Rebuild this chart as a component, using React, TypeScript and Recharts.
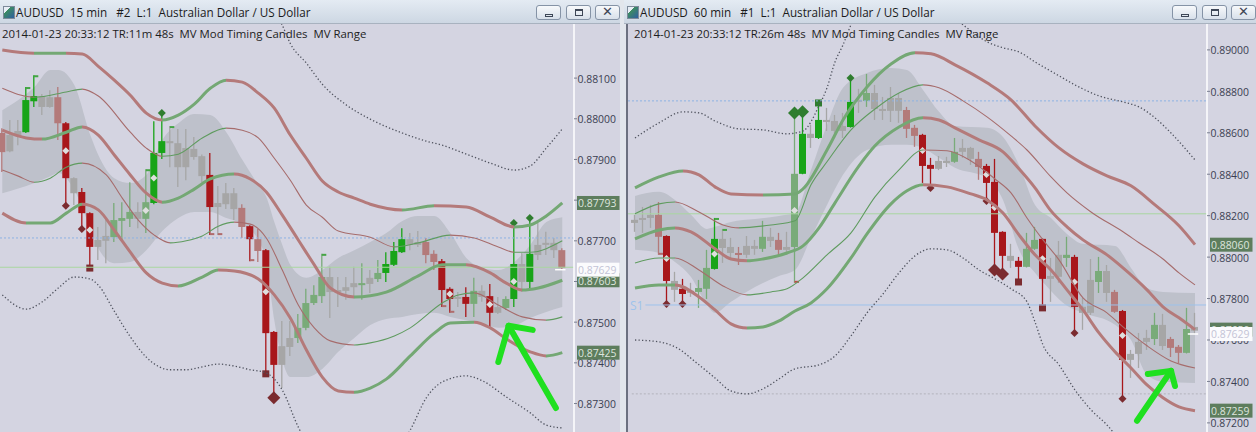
import React from 'react';
import { ComposedChart, Bar, Line, Area, XAxis, YAxis, ReferenceLine } from 'recharts';

type Candle = [number, number, number, number, string];
type Knot = [number, number];
type Band = [number, number, number];

// ---- 15 min panel ----
const leftCandles: Candle[] = [
  [0.87965, 0.87977, 0.87869, 0.87918, 'r'], [0.8796, 0.87997, 0.87918, 0.8792, 'n'], [0.87957, 0.87997, 0.87935, 0.8797, 'n'],
  [0.87967, 0.88078, 0.87965, 0.88046, 'G'], [0.88043, 0.88107, 0.88029, 0.88056, 'G'], [0.88056, 0.88061, 0.88009, 0.88029, 'n'],
  [0.88029, 0.8807, 0.88027, 0.88053, 'n'], [0.88053, 0.88078, 0.87948, 0.87989, 'r'], [0.87989, 0.87992, 0.87786, 0.87854, 'R'],
  [0.87854, 0.87856, 0.87788, 0.87817, 'n'], [0.8782, 0.8783, 0.87729, 0.87768, 'R'], [0.87768, 0.8777, 0.87633, 0.87685, 'R'],
  [0.87685, 0.87734, 0.87653, 0.87702, 'n'], [0.877, 0.87751, 0.87645, 0.87712, 'n'], [0.87709, 0.87793, 0.87697, 0.87751, 'g'],
  [0.87749, 0.87795, 0.87697, 0.87756, 'g'], [0.87754, 0.87844, 0.87734, 0.87771, 'g'], [0.87771, 0.87795, 0.87731, 0.87754, 'n'],
  [0.87754, 0.87876, 0.87719, 0.87795, 'g'], [0.87793, 0.87994, 0.8779, 0.87916, 'G'], [0.87916, 0.88014, 0.87901, 0.87945, 'G'],
  [0.87945, 0.87982, 0.87881, 0.8794, 'n'], [0.8794, 0.87975, 0.87832, 0.87881, 'n'], [0.87881, 0.87975, 0.87849, 0.87928, 'n'],
  [0.87926, 0.87955, 0.87899, 0.87906, 'n'], [0.87908, 0.87912, 0.87844, 0.87859, 'n'], [0.87862, 0.87916, 0.87714, 0.87783, 'R'],
  [0.87783, 0.87835, 0.87714, 0.87793, 'n'], [0.8779, 0.87842, 0.87778, 0.87817, 'n'], [0.87817, 0.8783, 0.87751, 0.87778, 'n'],
  [0.87781, 0.8779, 0.87707, 0.87734, 'r'], [0.87736, 0.87738, 0.8765, 0.87704, 'R'], [0.87704, 0.87729, 0.87648, 0.87675, 'r'],
  [0.87677, 0.8768, 0.87373, 0.87473, 'R'], [0.87476, 0.87478, 0.87314, 0.87395, 'R'], [0.87395, 0.87503, 0.87338, 0.87441, 'n'],
  [0.87439, 0.87503, 0.87417, 0.87461, 'n'], [0.87461, 0.8752, 0.87449, 0.87486, 'g'], [0.87486, 0.87582, 0.8748, 0.87547, 'g'],
  [0.87547, 0.87591, 0.87542, 0.87567, 'g'], [0.87564, 0.87668, 0.87547, 0.87611, 'g'], [0.87611, 0.87636, 0.8751, 0.87574, 'n'],
  [0.87574, 0.87611, 0.87537, 0.87579, 'n'], [0.87577, 0.87611, 0.87555, 0.87586, 'n'], [0.87586, 0.87636, 0.87559, 0.87596, 'n'],
  [0.87591, 0.87645, 0.87555, 0.87596, 'g'], [0.87594, 0.87628, 0.87572, 0.87609, 'n'], [0.87606, 0.87653, 0.87599, 0.87621, 'g'],
  [0.87621, 0.87672, 0.87599, 0.87643, 'G'], [0.87641, 0.87697, 0.87638, 0.87675, 'G'], [0.87672, 0.87731, 0.8767, 0.87704, 'G'],
  [0.87704, 0.87719, 0.87677, 0.8769, 'n'], [0.8769, 0.87724, 0.87685, 0.87697, 'n'], [0.87697, 0.87707, 0.87645, 0.87665, 'r'],
  [0.87668, 0.87677, 0.87628, 0.87648, 'r'], [0.8765, 0.87655, 0.87537, 0.87579, 'R'], [0.87582, 0.87586, 0.87523, 0.87557, 'R'],
  [0.87557, 0.87574, 0.87537, 0.87562, 'n'], [0.87562, 0.87586, 0.87513, 0.87545, 'R'], [0.87545, 0.87609, 0.87513, 0.87577, 'g'],
  [0.87577, 0.87591, 0.8755, 0.87562, 'n'], [0.87564, 0.87594, 0.87486, 0.87523, 'R'], [0.87523, 0.87562, 0.8752, 0.87537, 'n'],
  [0.87535, 0.87564, 0.8753, 0.87557, 'g'], [0.87557, 0.87744, 0.87537, 0.87643, 'G'], [0.87599, 0.8767, 0.87574, 0.87643, 'n'],
  [0.87599, 0.87756, 0.87584, 0.87668, 'G'], [0.87665, 0.87744, 0.87653, 0.8769, 'n'], [0.8769, 0.87722, 0.87665, 0.87695, 'n'],
  [0.87695, 0.87707, 0.87658, 0.87677, 'n'], [0.87677, 0.87682, 0.87628, 0.87633, 'r'],
];
const leftMid = [8, 11, 18, 19, 33, 56, 61, 64];
const leftTop: [number, string][] = [[3, 'f'], [4, 'f'], [18, 'f'], [20, 'd'], [21, 'f'], [40, 'f'], [64, 'd'], [66, 'd']];
const leftBottom: [number, string][] = [[8, 'd'], [10, 'd'], [11, 's'], [26, 'f'], [27, 'f'], [31, 'f'], [33, 's'], [34, 'D'], [55, 'f'], [56, 'f']];

const leftT1: Knot[] = [[0, 0.88169], [4, 0.88161], [8, 0.88161], [10, 0.88159], [12, 0.88129], [14, 0.88095], [16, 0.88058], [18, 0.88014], [20, 0.87997], [22, 0.88009], [24, 0.88036], [26, 0.88075], [28, 0.88095], [30, 0.8809], [32, 0.88063], [34, 0.88026], [36, 0.8796], [38, 0.87903], [40, 0.87847], [42, 0.8782], [44, 0.87805], [46, 0.8779], [50, 0.87776], [54, 0.87786], [58, 0.87783], [61, 0.87758], [64, 0.87734], [66, 0.87739], [68, 0.87761], [70, 0.87793]];
const leftT2: Knot[] = [[0, 0.88075], [4, 0.88053], [8, 0.88066], [10, 0.88073], [12, 0.88056], [16, 0.87967], [18, 0.87928], [20, 0.87908], [22, 0.87913], [25, 0.87953], [28, 0.87977], [30, 0.87972], [32, 0.87953], [34, 0.87903], [36, 0.87849], [38, 0.87788], [40, 0.87758], [42, 0.87724], [46, 0.87709], [49, 0.87685], [52, 0.87695], [56, 0.87714], [59, 0.87707], [62, 0.87685], [64, 0.87672], [66, 0.87672], [70, 0.877]];
const leftC: Knot[] = [[0, 0.87972], [3, 0.87953], [5, 0.8795], [8, 0.87967], [10, 0.8798], [12, 0.8796], [14, 0.87911], [16, 0.87862], [18, 0.87817], [20, 0.87795], [22, 0.87805], [24, 0.87827], [26, 0.87852], [29, 0.87864], [31, 0.87852], [33, 0.8782], [35, 0.87763], [37, 0.87702], [39, 0.87641], [41, 0.87584], [44, 0.87562], [48, 0.87574], [52, 0.87614], [55, 0.87641], [58, 0.87641], [61, 0.87621], [63, 0.87596], [65, 0.87579], [67, 0.87584], [70, 0.87603]];
const leftB2: Knot[] = [[0, 0.87874], [2, 0.87859], [4, 0.87844], [6, 0.87854], [8, 0.87881], [10, 0.87891], [13, 0.87862], [15, 0.87805], [17, 0.87751], [19, 0.87714], [21, 0.87695], [23, 0.877], [25, 0.87712], [27, 0.87736], [29, 0.87746], [31, 0.87741], [33, 0.87707], [35, 0.87628], [37, 0.87542], [39, 0.87486], [41, 0.87454], [44, 0.87444], [46, 0.87449], [49, 0.87466], [51, 0.87486], [55, 0.87547], [57, 0.87567], [59, 0.87572], [62, 0.87542], [65, 0.87513], [68, 0.87505], [70, 0.87513]];
const leftB1: Knot[] = [[0, 0.87768], [3, 0.87744], [6, 0.87744], [8, 0.87768], [10, 0.8779], [12, 0.87776], [14, 0.87726], [16, 0.87672], [18, 0.87621], [20, 0.87596], [22, 0.87589], [25, 0.87611], [27, 0.87628], [29, 0.87626], [32, 0.87606], [34, 0.87567], [36, 0.8751], [38, 0.87432], [40, 0.87365], [42, 0.87331], [44, 0.87328], [46, 0.87338], [48, 0.8736], [51, 0.87417], [54, 0.87473], [56, 0.87498], [59, 0.875], [61, 0.87486], [63, 0.87459], [66, 0.87427], [68, 0.87417], [70, 0.87425]];
const leftDotTop: Knot[] = [[33, 0.88292], [35, 0.8823], [36, 0.88185], [38, 0.88137], [40, 0.88085], [43, 0.88034], [46, 0.87999], [50, 0.87965], [53, 0.87945], [55, 0.87935], [58, 0.87913], [61, 0.87891], [64, 0.87874], [66, 0.87884], [68, 0.87928], [70, 0.87975]];
const leftDotBottom: Knot[] = [[0, 0.87567], [3, 0.87532], [5, 0.8755], [7, 0.87584], [9, 0.87611], [11, 0.87606], [12, 0.87591], [14, 0.87527], [16, 0.87464], [18, 0.87414], [21, 0.87383], [23, 0.87383], [25, 0.8739], [27, 0.87397], [29, 0.87392], [31, 0.87383], [33, 0.87375], [35, 0.87333], [37, 0.87242], [40, 0.87149], [44, 0.87112], [48, 0.87149], [51, 0.87235], [53, 0.87314], [55, 0.87353], [58, 0.87368], [60, 0.87356], [63, 0.87316], [66, 0.87277], [68, 0.87247], [70, 0.8724]];
const leftEnv: Band[] = [[0, 0.87817, 0.88021], [4, 0.87842, 0.88078], [6, 0.87859, 0.8812], [7, 0.87867, 0.8812], [9, 0.87825, 0.88083], [11, 0.87731, 0.8796], [12, 0.87682, 0.87911], [14, 0.87645, 0.87854], [16, 0.87648, 0.87842], [18, 0.87677, 0.87862], [20, 0.87724, 0.87948], [22, 0.87756, 0.87989], [24, 0.87771, 0.88012], [26, 0.87771, 0.88009], [28, 0.87756, 0.87967], [30, 0.87741, 0.87899], [32, 0.87702, 0.87837], [33, 0.87648, 0.87808], [34, 0.87505, 0.87746], [35, 0.87407, 0.8769], [36, 0.87365, 0.87641], [38, 0.87365, 0.87609], [40, 0.87385, 0.87628], [42, 0.87427, 0.87658], [44, 0.87461, 0.87677], [46, 0.87493, 0.87697], [48, 0.87508, 0.87719], [50, 0.87513, 0.87749], [52, 0.8752, 0.87761], [54, 0.87523, 0.87761], [56, 0.87513, 0.87719], [58, 0.87505, 0.87658], [60, 0.87496, 0.87633], [62, 0.87486, 0.87628], [64, 0.87491, 0.87648], [66, 0.8751, 0.8769], [68, 0.87525, 0.87746], [70, 0.87537, 0.87758]];
const leftTicks = [0.873, 0.874, 0.875, 0.876, 0.877, 0.878, 0.879, 0.88, 0.881];
const leftTagsGreen = [0.87793, 0.87603, 0.87425];
const leftTagWhite = 0.87629;
const leftLevels = [0.87707, 0.87635];
const leftArrow: Knot[] = [[63.3, 0.87491], [69.2, 0.87289], [62.0, 0.87402], [66.3, 0.87481]];

// ---- 60 min panel ----
const rightCandles: Candle[] = [
  [0.88165, 0.88204, 0.88122, 0.8818, 'n'], [0.8818, 0.88242, 0.88117, 0.88189, 'n'], [0.88189, 0.88252, 0.88141, 0.88204, 'n'],
  [0.88204, 0.88266, 0.88011, 0.88098, 'r'], [0.88102, 0.88105, 0.87774, 0.87885, 'R'], [0.87885, 0.87929, 0.87784, 0.87842, 'n'],
  [0.87847, 0.87895, 0.87774, 0.87822, 'R'], [0.87827, 0.87876, 0.87808, 0.87837, 'n'], [0.87832, 0.8789, 0.87755, 0.87851, 'g'],
  [0.87847, 0.88035, 0.87798, 0.87948, 'g'], [0.87943, 0.88189, 0.8794, 0.88088, 'G'], [0.88088, 0.88136, 0.87972, 0.88044, 'n'],
  [0.88049, 0.88093, 0.87996, 0.8802, 'n'], [0.8802, 0.88049, 0.87962, 0.88011, 'r'], [0.88011, 0.88102, 0.87996, 0.88054, 'n'],
  [0.88054, 0.88083, 0.88011, 0.8804, 'n'], [0.8804, 0.88175, 0.88025, 0.88098, 'g'], [0.88098, 0.88141, 0.88049, 0.88078, 'n'],
  [0.88083, 0.88117, 0.88001, 0.88035, 'r'], [0.88035, 0.88122, 0.88011, 0.88049, 'n'], [0.88049, 0.88696, 0.87876, 0.88402, 'g'],
  [0.88402, 0.88701, 0.884, 0.88595, 'G'], [0.88595, 0.88638, 0.88527, 0.88575, 'n'], [0.88575, 0.88744, 0.8857, 0.88662, 'G'],
  [0.88662, 0.8872, 0.88609, 0.88652, 'n'], [0.88657, 0.88686, 0.88575, 0.88609, 'n'], [0.88609, 0.88696, 0.88575, 0.88633, 'n'],
  [0.88628, 0.88865, 0.88625, 0.88749, 'G'], [0.88749, 0.88812, 0.88696, 0.88759, 'n'], [0.88754, 0.88884, 0.88725, 0.88792, 'g'],
  [0.88792, 0.88831, 0.88662, 0.88715, 'n'], [0.88715, 0.88773, 0.88662, 0.88706, 'n'], [0.88706, 0.88821, 0.88652, 0.88768, 'n'],
  [0.88768, 0.88792, 0.88648, 0.88706, 'n'], [0.8871, 0.88725, 0.88575, 0.88619, 'r'], [0.88624, 0.88638, 0.88532, 0.88585, 'r'],
  [0.8859, 0.88595, 0.88358, 0.8844, 'R'], [0.88445, 0.88479, 0.88334, 0.88426, 'R'], [0.88426, 0.88488, 0.8842, 0.88464, 'n'],
  [0.88464, 0.88484, 0.88435, 0.88455, 'n'], [0.8846, 0.88575, 0.88455, 0.88508, 'g'], [0.88508, 0.8857, 0.88479, 0.88527, 'n'],
  [0.88527, 0.88532, 0.88445, 0.88474, 'n'], [0.88474, 0.88508, 0.88373, 0.88435, 'r'], [0.8844, 0.8845, 0.88271, 0.88358, 'R'],
  [0.88363, 0.88474, 0.87938, 0.88117, 'R'], [0.88122, 0.88125, 0.87919, 0.88006, 'R'], [0.88006, 0.88064, 0.87948, 0.87982, 'n'],
  [0.87982, 0.88001, 0.8788, 0.87953, 'R'], [0.87953, 0.88117, 0.8795, 0.8804, 'g'], [0.8804, 0.88146, 0.88035, 0.88083, 'g'],
  [0.88088, 0.8809, 0.87755, 0.87895, 'R'], [0.87895, 0.87996, 0.87784, 0.87909, 'n'], [0.87905, 0.88078, 0.87876, 0.88011, 'n'],
  [0.87996, 0.88098, 0.87953, 0.88011, 'g'], [0.88001, 0.88011, 0.87634, 0.8776, 'R'], [0.8776, 0.87803, 0.87649, 0.87731, 'n'],
  [0.87731, 0.87991, 0.87721, 0.8789, 'n'], [0.8788, 0.88001, 0.87827, 0.87933, 'g'], [0.87933, 0.87962, 0.87784, 0.87827, 'n'],
  [0.87832, 0.87842, 0.87731, 0.87736, 'r'], [0.8774, 0.87745, 0.87316, 0.87504, 'R'], [0.87504, 0.87552, 0.87417, 0.87533, 'n'],
  [0.87533, 0.87634, 0.87465, 0.87591, 'n'], [0.87591, 0.87649, 0.87552, 0.8761, 'n'], [0.87605, 0.87731, 0.87576, 0.87673, 'g'],
  [0.87673, 0.87726, 0.87552, 0.87571, 'n'], [0.87605, 0.87615, 0.87518, 0.87562, 'r'], [0.87567, 0.87576, 0.87489, 0.87538, 'r'],
  [0.87538, 0.87755, 0.87535, 0.87653, 'g'], [0.87663, 0.87731, 0.8763, 0.87645, 'n'],
];
const rightMid = [4, 10, 20, 36, 44, 45, 51, 55, 61];
const rightTop: [number, string][] = [[10, 'f'], [11, 'f'], [20, 'D'], [21, 'D'], [23, 's'], [27, 'd']];
const rightBottom: [number, string][] = [[3, 'f'], [4, 'd'], [6, 'd'], [20, 'f'], [37, 'd'], [44, 'd'], [45, 'D'], [46, 'D'], [48, 's'], [51, 's'], [55, 'd'], [61, 'd']];

const rightT1: Knot[] = [[0, 0.88334], [3, 0.88387], [6, 0.88416], [8, 0.88397], [10, 0.88339], [12, 0.88305], [16, 0.883], [20, 0.88305], [21, 0.88329], [24, 0.88517], [26, 0.88662], [29, 0.88821], [32, 0.88932], [35, 0.88986], [37, 0.88981], [40, 0.88928], [44, 0.88841], [47, 0.88759], [50, 0.88633], [53, 0.88527], [56, 0.8845], [59, 0.88392], [62, 0.88344], [65, 0.88252], [68, 0.88151], [70, 0.8806]];
const rightT2: Knot[] = [[0, 0.88209], [3, 0.88257], [5, 0.88266], [8, 0.88218], [11, 0.88155], [13, 0.88141], [17, 0.88155], [20, 0.88175], [22, 0.88349], [24, 0.8846], [27, 0.88614], [30, 0.88715], [33, 0.88792], [36, 0.88831], [38, 0.88817], [41, 0.88754], [44, 0.88677], [47, 0.88585], [49, 0.88517], [52, 0.88387], [54, 0.8831], [57, 0.88218], [61, 0.88122], [63, 0.88069], [66, 0.87991], [68, 0.87924], [70, 0.87866]];
const rightC: Knot[] = [[0, 0.88088], [3, 0.88131], [5, 0.88141], [7, 0.88122], [10, 0.8804], [12, 0.87991], [14, 0.87982], [16, 0.87991], [19, 0.8802], [21, 0.88054], [23, 0.88141], [25, 0.88262], [28, 0.8844], [30, 0.88537], [33, 0.88628], [36, 0.88672], [38, 0.88662], [40, 0.88624], [43, 0.88566], [46, 0.88508], [48, 0.88426], [50, 0.88334], [52, 0.88223], [54, 0.88146], [56, 0.88083], [59, 0.88011], [61, 0.87948], [64, 0.87842], [66, 0.8776], [68, 0.87707], [70, 0.8765]];
const rightB2: Knot[] = [[0, 0.87972], [3, 0.87996], [5, 0.87996], [8, 0.87938], [11, 0.87861], [14, 0.87818], [17, 0.87832], [19, 0.87847], [21, 0.879], [24, 0.88011], [27, 0.88117], [30, 0.88291], [33, 0.88421], [36, 0.88517], [39, 0.88513], [42, 0.88464], [45, 0.88377], [47, 0.8831], [49, 0.88189], [51, 0.88083], [53, 0.87987], [56, 0.87803], [59, 0.87731], [61, 0.87663], [64, 0.87572], [67, 0.87499], [70, 0.87465]];
const rightB1: Knot[] = [[0, 0.87851], [3, 0.87866], [5, 0.87866], [8, 0.87808], [10, 0.87745], [12, 0.87678], [14, 0.87658], [16, 0.87663], [18, 0.87692], [20, 0.8774], [22, 0.87779], [24, 0.87847], [27, 0.87996], [29, 0.88112], [32, 0.88257], [34, 0.8832], [36, 0.88349], [39, 0.88339], [42, 0.88305], [44, 0.88276], [46, 0.88213], [48, 0.88107], [50, 0.88011], [52, 0.87938], [54, 0.87842], [56, 0.87745], [58, 0.87634], [60, 0.87543], [62, 0.87465], [64, 0.87383], [66, 0.87321], [68, 0.87277], [70, 0.87259]];
const rightDotTop: Knot[] = [[0, 0.88575], [3, 0.88648], [6, 0.88701], [8, 0.88696], [10, 0.88657], [13, 0.88619], [16, 0.88614], [19, 0.88595], [21, 0.88609], [23, 0.8873], [24, 0.88817], [25, 0.88942], [26, 0.89024], [27, 0.89121], [29, 0.89241], [33, 0.89314], [37, 0.89241], [41, 0.89121], [44, 0.89039], [46, 0.8901], [48, 0.8899], [50, 0.88942], [53, 0.88875], [55, 0.88831], [58, 0.88778], [61, 0.88749], [63, 0.88725], [65, 0.88672], [67, 0.88599], [70, 0.88469]];
const rightDotBottom: Knot[] = [[0, 0.876], [3, 0.87591], [5, 0.87567], [8, 0.8748], [10, 0.87417], [12, 0.87354], [14, 0.8734], [16, 0.87364], [18, 0.87412], [20, 0.87461], [23, 0.8748], [25, 0.87523], [27, 0.8762], [29, 0.87731], [31, 0.87822], [33, 0.87924], [35, 0.88006], [37, 0.8804], [39, 0.88035], [41, 0.87996], [43, 0.87938], [45, 0.87895], [47, 0.87847], [49, 0.87784], [50, 0.87687], [51, 0.87576], [53, 0.8748], [55, 0.87359], [57, 0.87263], [59, 0.8719], [62, 0.87046], [66, 0.86925], [70, 0.86852]];
const rightEnv: Band[] = [[0, 0.88035, 0.88295], [3, 0.8802, 0.88315], [5, 0.87977, 0.88276], [7, 0.87904, 0.88204], [9, 0.87769, 0.88136], [10, 0.87731, 0.88146], [12, 0.87784, 0.8817], [15, 0.87856, 0.88184], [18, 0.87909, 0.88199], [20, 0.87938, 0.88213], [22, 0.88093, 0.88421], [24, 0.88252, 0.88638], [26, 0.88397, 0.88817], [29, 0.88517, 0.88889], [32, 0.88542, 0.88913], [34, 0.88542, 0.88903], [36, 0.88527, 0.88807], [38, 0.88479, 0.88701], [40, 0.88431, 0.88633], [44, 0.88382, 0.88624], [46, 0.88276, 0.8858], [48, 0.88035, 0.88445], [50, 0.87924, 0.88252], [52, 0.87837, 0.88189], [54, 0.87765, 0.88112], [56, 0.87731, 0.88064], [60, 0.87673, 0.88054], [62, 0.876, 0.87948], [64, 0.87432, 0.87851], [66, 0.87398, 0.87832], [70, 0.87393, 0.87827]];
const rightTicks = [0.872, 0.874, 0.876, 0.878, 0.88, 0.882, 0.884, 0.886, 0.888, 0.89];
const rightTagsGreen = [0.8806, 0.8765, 0.87259];
const rightTagWhite = 0.87629;
const rightLevels = [0.88754, 0.88209, 0.87769, 0.8734];
const rightArrow: Knot[] = [[67.0, 0.87451], [62.75, 0.8721], [64.1, 0.87436], [67.5, 0.87378]];

const KIND_COLOR: Record<string, string> = { G: '#18a418', R: '#a8171b', g: '#79ab79', r: '#b37a7a', n: '#a6a6a6' };
const BG = '#d4d4e1';
const FONT = '"Open Sans", "Noto Sans", sans-serif';

const levelStyles = [
  { stroke: '#8db3e3', dash: '2 2' },
  { stroke: '#a9d6a0' },
  { stroke: '#9dc2ec', from: 1.3 },
  { stroke: '#b2b2bc', dash: '2 2', from: -0.4 },
];

function diamond(cx: number, cy: number, s: number, fill: string, key: string) {
  return <path key={key} d={`M${cx},${cy - s}L${cx + s},${cy}L${cx},${cy + s}L${cx - s},${cy}Z`} fill={fill} />;
}

function endMarker(kind: string, cx: number, cy: number, isTop: boolean, flagColor: string) {
  const col = isTop ? '#2f7d2f' : '#7b2b2f';
  if (kind === 'd') return diamond(cx, cy, 4, col, 'm' + isTop);
  if (kind === 'D') return diamond(cx, cy, 6.5, col, 'm' + isTop);
  if (kind === 's') return <rect key={'m' + isTop} x={cx - 3.5} y={cy - 3.5} width={7} height={7} fill={col} />;
  return <rect key={'m' + isTop} x={cx} y={isTop ? cy : cy - 2} width={4.5} height={2} fill={flagColor} />;
}

function CandleShape(props: any) {
  const { x, y, width, height, payload } = props;
  if (!payload || !Number.isFinite(x) || !Number.isFinite(y)) return null;
  const top = Math.min(y, y + height);
  const span = Math.abs(height);
  const { o, hi, lo, c, k, tm, bm, mid } = payload;
  const toY = (v: number) => top + ((hi - v) / (hi - lo)) * span;
  const cx = x + width / 2;
  const col = KIND_COLOR[k];
  const y1 = toY(Math.max(o, c));
  let y2 = toY(Math.min(o, c));
  if (y2 - y1 < 2) y2 = y1 + 2;
  const bottomFlag = k === 'g' ? '#c04a48' : '#b06c6c';
  return (
    <g>
      <line x1={cx} x2={cx} y1={top} y2={top + span} stroke={col} strokeWidth={1.3} />
      <rect x={x} y={y1} width={width} height={y2 - y1} fill={col} />
      {mid && diamond(cx, (y1 + y2) / 2, 3.5, '#dedede', 'mid')}
      {tm && endMarker(tm, cx, top, true, '#45a545')}
      {bm && endMarker(bm, cx, top + span, false, bottomFlag)}
    </g>
  );
}

function gradient(id: string, pts: Knot[], up: string, down: string) {
  const x0 = pts[0][0];
  const w = pts[pts.length - 1][0] - x0;
  const stops: React.ReactNode[] = [];
  for (let j = 0; j < pts.length - 1; j++) {
    const col = pts[j + 1][1] >= pts[j][1] ? up : down;
    stops.push(<stop key={j + 'a'} offset={(pts[j][0] - x0) / w} stopColor={col} />);
    stops.push(<stop key={j + 'b'} offset={(pts[j + 1][0] - x0) / w} stopColor={col} />);
  }
  return (
    <linearGradient key={id} id={id} x1="0" y1="0" x2="1" y2="0">
      {stops}
    </linearGradient>
  );
}

function makeTick(green: number[], white: number) {
  return (props: any) => {
    const { x, y, payload } = props;
    const v = payload.value as number;
    const isWhite = Math.abs(v - white) < 1e-7;
    const isGreen = green.some((g) => Math.abs(v - g) < 1e-7);
    const label = v.toFixed(5);
    if (isWhite || isGreen) {
      return (
        <g>
          <rect x={x + 3} y={y - 7} width={42.5} height={14} fill={isWhite ? '#fbfbfd' : '#5d7d5d'} />
          <text x={x + 4} y={y + 4.5} fontSize={11} fontFamily={FONT} textLength={38.5} lengthAdjust="spacingAndGlyphs" fill={isWhite ? '#c3c3d6' : '#dde5dd'}>{label}</text>
        </g>
      );
    }
    return (
      <g>
        <line x1={x} x2={x + 3} y1={y} y2={y} stroke="#7a7f90" />
        <text x={x + 3.5} y={y + 4.5} fontSize={11} fontFamily={FONT} textLength={38.5} lengthAdjust="spacingAndGlyphs" fill="#3b4052">{label}</text>
      </g>
    );
  };
}

function TitleBar({ title, width }: { title: string; width: number }) {
  const btn = (i: number, glyph: React.ReactNode) => (
    <div key={i} style={{ position: 'absolute', left: width - 84 + i * 29.5, top: 5, width: 25, height: 15, boxSizing: 'border-box', border: '1px solid #8593a6', borderRadius: 3, background: 'linear-gradient(#f7f9fb, #d8e0ea)' }}>
      {glyph}
    </div>
  );
  return (
    <div style={{ position: 'absolute', left: 0, top: 0, width, height: 24, boxSizing: 'border-box', background: 'linear-gradient(#e4ebf3, #cdd7e3)', borderBottom: '1px solid #a8b2bf' }}>
      <div style={{ position: 'absolute', left: 3, top: 6, width: 10, height: 11, background: 'linear-gradient(135deg, #e8eef6 30%, #3d8c62 31%, #2f5fa0)', border: '1px solid #7d8a9a' }} />
      <div style={{ position: 'absolute', left: 16, top: 4, fontSize: 11.7, fontFamily: FONT, color: '#1b1b1b', whiteSpace: 'pre' }}>{title}</div>
      {btn(0, <div style={{ position: 'absolute', left: 8, top: 8, width: 8, height: 3, border: '1px solid #3d4656', boxSizing: 'border-box' }} />)}
      {btn(1, <div style={{ position: 'absolute', left: 8, top: 3, width: 8, height: 7, border: '1px solid #3d4656', borderTopWidth: 2, boxSizing: 'border-box' }} />)}
      {btn(2, <div style={{ position: 'absolute', left: 0, top: -2, width: 23, textAlign: 'center', fontSize: 13, fontFamily: 'DejaVu Sans', color: '#3d4656' }}>✕</div>)}
    </div>
  );
}

type PanelCfg = {
  id: string; left: number; width: number; border: number; chartWidth: number; axisWidth: number;
  title: string; info: string; infoLeft: number; yDomain: [number, number]; xDomain: [number, number];
  candles: Candle[]; mid: number[]; top: [number, string][]; bottom: [number, string][];
  bands: Knot[][]; dots: Knot[][]; env: Band[]; ticks: number[]; green: number[]; white: number;
  levels: number[]; arrow: Knot[]; s1?: boolean;
};

function Panel({ cfg }: { cfg: PanelCfg }) {
  const topMap = new Map(cfg.top);
  const botMap = new Map(cfg.bottom);
  const data = cfg.candles.map(([o, hi, lo, c, k], i) => ({ i, o, hi, lo, c, k, tm: topMap.get(i), bm: botMap.get(i), mid: cfg.mid.includes(i) }));
  const thick = [true, false, true, false, true];
  const a = cfg.arrow;
  return (
    <div style={{ position: 'absolute', left: cfg.left, top: 0, width: cfg.width, height: 432 }}>
      <TitleBar title={cfg.title} width={cfg.width} />
      <div style={{ position: 'absolute', left: cfg.width - cfg.chartWidth - cfg.border, top: 24, width: cfg.chartWidth, height: 408, background: BG, borderLeft: cfg.border ? `${cfg.border}px solid #6c7180` : undefined }}>
        <ComposedChart width={cfg.chartWidth} height={408} data={data} margin={{ top: 0, right: 0, bottom: 0, left: 0 }}>
          <defs>
            {cfg.bands.map((b, j) =>
              gradient(`${cfg.id}-b${j}`, b, thick[j] ? '#74a874' : '#5f9b5f', thick[j] ? '#b47a7a' : '#a66c6c'),
            )}
          </defs>
          <XAxis dataKey="i" type="number" domain={cfg.xDomain} allowDataOverflow hide />
          <YAxis
            orientation="right"
            domain={cfg.yDomain}
            allowDataOverflow
            width={cfg.axisWidth}
            ticks={[...cfg.ticks, ...cfg.green, cfg.white]}
            interval={0}
            tickLine={false}
            tickSize={0}
            tickMargin={0}
            axisLine={{ stroke: '#ffffff', strokeWidth: 1.5 }}
            tick={makeTick(cfg.green, cfg.white)}
          />
          <Area
            data={cfg.env.map(([i, lo, hi]) => ({ i, r: [lo, hi] }))}
            dataKey="r"
            type="monotone"
            stroke="none"
            fill="#bec1cb"
            fillOpacity={1}
            isAnimationActive={false}
          />
          {cfg.levels.map((v, j) => {
            const st = levelStyles[j];
            const from = st.from ?? cfg.xDomain[0];
            return (
              <ReferenceLine
                key={'lv' + j}
                segment={[{ x: from, y: v }, { x: cfg.xDomain[1], y: v }]}
                stroke={st.stroke}
                strokeDasharray={st.dash}
                strokeWidth={1}
              />
            );
          })}
          {cfg.dots.map((d, j) => (
            <Line
              key={'dot' + j}
              data={d.map(([i, v]) => ({ i, v }))}
              dataKey="v"
              type="monotone"
              stroke="#50535f"
              strokeWidth={1.3}
              strokeDasharray="1.3 2.2"
              dot={false}
              isAnimationActive={false}
            />
          ))}
          {cfg.bands.map((b, j) => (
            <Line
              key={'band' + j}
              data={b.map(([i, v]) => ({ i, v }))}
              dataKey="v"
              type="monotone"
              stroke={`url(#${cfg.id}-b${j})`}
              strokeWidth={thick[j] ? 3 : 1.1}
              dot={false}
              isAnimationActive={false}
            />
          ))}
          <Bar dataKey={(d: any) => [d.lo, d.hi]} barSize={7} shape={CandleShape} isAnimationActive={false} />
          <ReferenceLine
            segment={[{ x: cfg.candles.length - 1.9, y: cfg.white }, { x: cfg.candles.length - 0.6, y: cfg.white }]}
            stroke="#ffffff"
            strokeWidth={1.5}
          />
          <ReferenceLine segment={[{ x: a[0][0], y: a[0][1] }, { x: a[1][0], y: a[1][1] }]} stroke="#1fe01f" strokeWidth={6} strokeLinecap="round" />
          <ReferenceLine segment={[{ x: a[0][0], y: a[0][1] }, { x: a[2][0], y: a[2][1] }]} stroke="#1fe01f" strokeWidth={6} strokeLinecap="round" />
          <ReferenceLine segment={[{ x: a[0][0], y: a[0][1] }, { x: a[3][0], y: a[3][1] }]} stroke="#1fe01f" strokeWidth={6} strokeLinecap="round" />
        </ComposedChart>
        <div style={{ position: 'absolute', left: cfg.infoLeft, top: 2, fontSize: 11.4, fontFamily: FONT, color: '#1d1d1d', whiteSpace: 'pre' }}>{cfg.info}</div>
        {cfg.s1 && (
          <div style={{ position: 'absolute', left: 2, top: 273, fontSize: 12, fontFamily: FONT, color: '#9ec3ec' }}>S1</div>
        )}
      </div>
    </div>
  );
}

const panels: PanelCfg[] = [
  {
    id: 'l', left: 0, width: 620, border: 0, chartWidth: 620, axisWidth: 46,
    title: 'AUDUSD  15 min   #2  L:1  Australian Dollar / US Dollar',
    info: '2014-01-23 20:33:12 TR:11m 48s  MV Mod Timing Candles  MV Range', infoLeft: 2,
    yDomain: [0.8723, 0.88233], xDomain: [-0.2875, 71.4625],
    candles: leftCandles, mid: leftMid, top: leftTop, bottom: leftBottom,
    bands: [leftT1, leftT2, leftC, leftB2, leftB1], dots: [leftDotTop, leftDotBottom], env: leftEnv,
    ticks: leftTicks, green: leftTagsGreen, white: leftTagWhite, levels: leftLevels, arrow: leftArrow,
  },
  {
    id: 'r', left: 624, width: 632, border: 2, chartWidth: 628, axisWidth: 49,
    title: 'AUDUSD  60 min   #1  L:1  Australian Dollar / US Dollar',
    info: '2014-01-23 20:33:12 TR:26m 48s  MV Mod Timing Candles  MV Range', infoLeft: 6,
    yDomain: [0.87156, 0.89125], xDomain: [-0.875, 71.5],
    candles: rightCandles, mid: rightMid, top: rightTop, bottom: rightBottom,
    bands: [rightT1, rightT2, rightC, rightB2, rightB1], dots: [rightDotTop, rightDotBottom], env: rightEnv,
    ticks: rightTicks, green: rightTagsGreen, white: rightTagWhite, levels: rightLevels, arrow: rightArrow, s1: true,
  },
];

export default function App() {
  return (
    <div style={{ position: 'absolute', left: 0, top: 0, width: 1256, height: 432, overflow: 'hidden', background: '#e2e6ec' }}>
      {panels.map((p) => (
        <Panel key={p.id} cfg={p} />
      ))}
    </div>
  );
}
